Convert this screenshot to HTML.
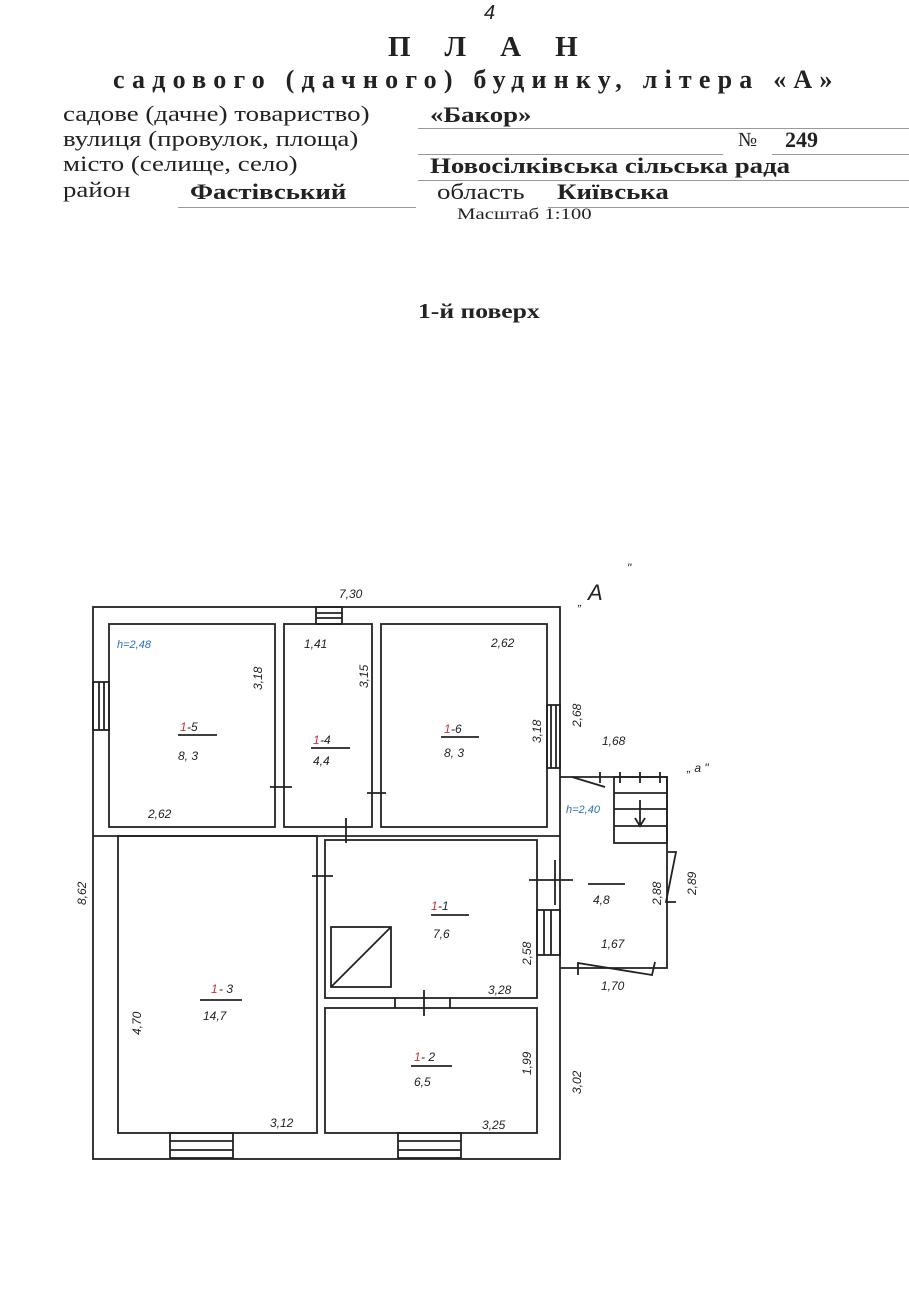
<!DOCTYPE html>
<html><head><meta charset="utf-8"><style>
html,body{margin:0;padding:0;background:#fff;}
body{width:909px;height:1300px;position:relative;overflow:hidden;font-family:"Liberation Serif",serif;color:#222;}
.t{position:absolute;white-space:nowrap;transform-origin:0 0;}
.w{transform:scaleX(1.22);font-size:22px;}
.u{position:absolute;height:0;border-top:1px solid #999;}
</style></head><body>
<div class="t" style="left:484px;top:2px;font-size:20px;font-style:italic;font-family:'Liberation Sans',sans-serif;">4</div>
<div class="t" style="left:388px;top:31px;font-size:29px;font-weight:bold;letter-spacing:34px;">ПЛАН</div>
<div class="t" style="left:113px;top:65px;font-size:26px;font-weight:bold;letter-spacing:7.2px;">садового (дачного) будинку, літера «А»</div>
<div class="t w" style="left:63px;top:101px;">садове (дачне) товариство)</div>
<div class="t w" style="left:63px;top:126px;">вулиця (провулок, площа)</div>
<div class="t w" style="left:63px;top:151px;">місто (селище, село)</div>
<div class="t w" style="left:63px;top:177px;">район</div>
<div class="t w" style="left:430px;top:102px;font-weight:bold;">«Бакор»</div>
<div class="u" style="left:418px;top:128px;width:491px;"></div>
<div class="t" style="left:738px;top:129px;font-size:20px;">№</div>
<div class="t" style="left:785px;top:127px;font-size:22px;font-weight:bold;">249</div>
<div class="u" style="left:418px;top:154px;width:305px;"></div>
<div class="u" style="left:772px;top:154px;width:137px;"></div>
<div class="t w" style="left:430px;top:153px;font-weight:bold;">Новосілківська сільська рада</div>
<div class="u" style="left:418px;top:180px;width:491px;"></div>
<div class="t w" style="left:190px;top:179px;font-weight:bold;">Фастівський</div>
<div class="u" style="left:178px;top:207px;width:238px;"></div>
<div class="t w" style="left:437px;top:179px;">область</div>
<div class="t w" style="left:557px;top:179px;font-weight:bold;">Київська</div>
<div class="u" style="left:548px;top:207px;width:361px;"></div>
<div class="t" style="left:457px;top:206px;font-size:16px;transform:scaleX(1.3);">Масштаб 1:100</div>
<div class="t" style="left:418px;top:299px;font-size:21px;font-weight:bold;transform:scaleX(1.22);">1-й поверх</div>

<svg width="909" height="1300" style="position:absolute;left:0;top:0" xmlns="http://www.w3.org/2000/svg">
<g fill="none" stroke="#222" stroke-width="1.8">
<rect x="93" y="607" width="467" height="552"/>
<rect x="109" y="624" width="166" height="203"/>
<rect x="284" y="624" width="88" height="203"/>
<rect x="381" y="624" width="166" height="203"/>
<line x1="93" y1="836" x2="560" y2="836"/>
<rect x="118" y="836" width="199" height="297"/>
<rect x="325" y="840" width="212" height="158"/>
<rect x="325" y="1008" width="212" height="125"/>
<rect x="331" y="927" width="60" height="60"/>
<line x1="331" y1="987" x2="391" y2="927"/>
<polyline points="560,777 667,777 667,968 560,968"/>
<rect x="614" y="777" width="53" height="66"/>
<line x1="614" y1="793" x2="667" y2="793"/><line x1="614" y1="809" x2="667" y2="809"/><line x1="614" y1="826" x2="667" y2="826"/>
<line x1="640" y1="800" x2="640" y2="825"/><polyline points="635,818 640,826 645,818"/>
<line x1="600" y1="772" x2="600" y2="783"/><line x1="620" y1="772" x2="620" y2="783"/><line x1="640" y1="772" x2="640" y2="783"/><line x1="660" y1="772" x2="660" y2="783"/>
<polyline points="572,777 605,787"/>
<polyline points="668,852 676,852 666,902 676,902"/>
<polyline points="578,963 652,975 655,962"/>
<line x1="578" y1="962" x2="578" y2="975"/>
<rect x="316" y="607" width="26" height="17"/><line x1="316" y1="613" x2="342" y2="613"/><line x1="316" y1="618" x2="342" y2="618"/>
<rect x="93" y="682" width="16" height="48"/><line x1="99" y1="682" x2="99" y2="730"/><line x1="104" y1="682" x2="104" y2="730"/>
<rect x="547" y="705" width="13" height="63"/><line x1="551" y1="705" x2="551" y2="768"/><line x1="556" y1="705" x2="556" y2="768"/>
<rect x="537" y="910" width="23" height="45"/><line x1="544" y1="910" x2="544" y2="955"/><line x1="551" y1="910" x2="551" y2="955"/>
<rect x="170" y="1133" width="63" height="25"/><line x1="170" y1="1141" x2="233" y2="1141"/><line x1="170" y1="1150" x2="233" y2="1150"/>
<rect x="398" y="1133" width="63" height="25"/><line x1="398" y1="1141" x2="461" y2="1141"/><line x1="398" y1="1150" x2="461" y2="1150"/>
<line x1="270" y1="787" x2="292" y2="787"/><line x1="367" y1="793" x2="386" y2="793"/>
<line x1="346" y1="818" x2="346" y2="843"/>
<line x1="312" y1="876" x2="333" y2="876"/>
<line x1="529" y1="880" x2="573" y2="880"/>
<line x1="424" y1="990" x2="424" y2="1016"/>
<line x1="395" y1="998" x2="395" y2="1008"/><line x1="450" y1="998" x2="450" y2="1008"/>
<line x1="555" y1="860" x2="555" y2="905"/>
<line x1="178" y1="735" x2="217" y2="735"/><line x1="311" y1="748" x2="350" y2="748"/><line x1="441" y1="737" x2="479" y2="737"/>
<line x1="200" y1="1000" x2="242" y2="1000"/><line x1="431" y1="915" x2="469" y2="915"/><line x1="411" y1="1066" x2="452" y2="1066"/>
<line x1="588" y1="884" x2="625" y2="884"/>
</g>
<g font-family="Liberation Sans,sans-serif" font-style="italic" font-size="12" fill="#222">
<text x="339" y="598">7,30</text>
<text x="117" y="648" fill="#2a6fc0" font-size="11">h=2,48</text>
<text x="304" y="648">1,41</text>
<text x="491" y="647">2,62</text>
<text x="148" y="818">2,62</text>
<text x="180" y="731" fill="#c33">1</text><text x="187" y="731">-5</text>
<text x="178" y="760">8, 3</text>
<text x="313" y="744" fill="#c33">1</text><text x="320" y="744">-4</text>
<text x="313" y="765">4,4</text>
<text x="444" y="733" fill="#c33">1</text><text x="451" y="733">-6</text>
<text x="444" y="757">8, 3</text>
<text x="211" y="993" fill="#c33">1</text><text x="219" y="993">- 3</text>
<text x="203" y="1020">14,7</text>
<text x="431" y="910" fill="#c33">1</text><text x="438" y="910">-1</text>
<text x="433" y="938">7,6</text>
<text x="488" y="994">3,28</text>
<text x="414" y="1061" fill="#c33">1</text><text x="421" y="1061">- 2</text>
<text x="414" y="1086">6,5</text>
<text x="270" y="1127">3,12</text>
<text x="482" y="1129">3,25</text>
<text x="602" y="745">1,68</text>
<text x="566" y="813" fill="#2a6fc0" font-size="11">h=2,40</text>
<text x="593" y="904">4,8</text>
<text x="601" y="948">1,67</text>
<text x="601" y="990">1,70</text>
<text x="588" y="600" font-size="22">А</text>
<text x="578" y="606">„</text><text x="627" y="572">"</text>
<text x="687" y="772">„ a "</text>
<text transform="translate(262,690) rotate(-90)">3,18</text>
<text transform="translate(368,688) rotate(-90)">3,15</text>
<text transform="translate(541,743) rotate(-90)">3,18</text>
<text transform="translate(581,727) rotate(-90)">2,68</text>
<text transform="translate(86,905) rotate(-90)">8,62</text>
<text transform="translate(141,1035) rotate(-90)">4,70</text>
<text transform="translate(531,965) rotate(-90)">2,58</text>
<text transform="translate(531,1075) rotate(-90)">1,99</text>
<text transform="translate(581,1094) rotate(-90)">3,02</text>
<text transform="translate(661,905) rotate(-90)">2,88</text>
<text transform="translate(696,895) rotate(-90)">2,89</text>
</g>
</svg>
</body></html>
